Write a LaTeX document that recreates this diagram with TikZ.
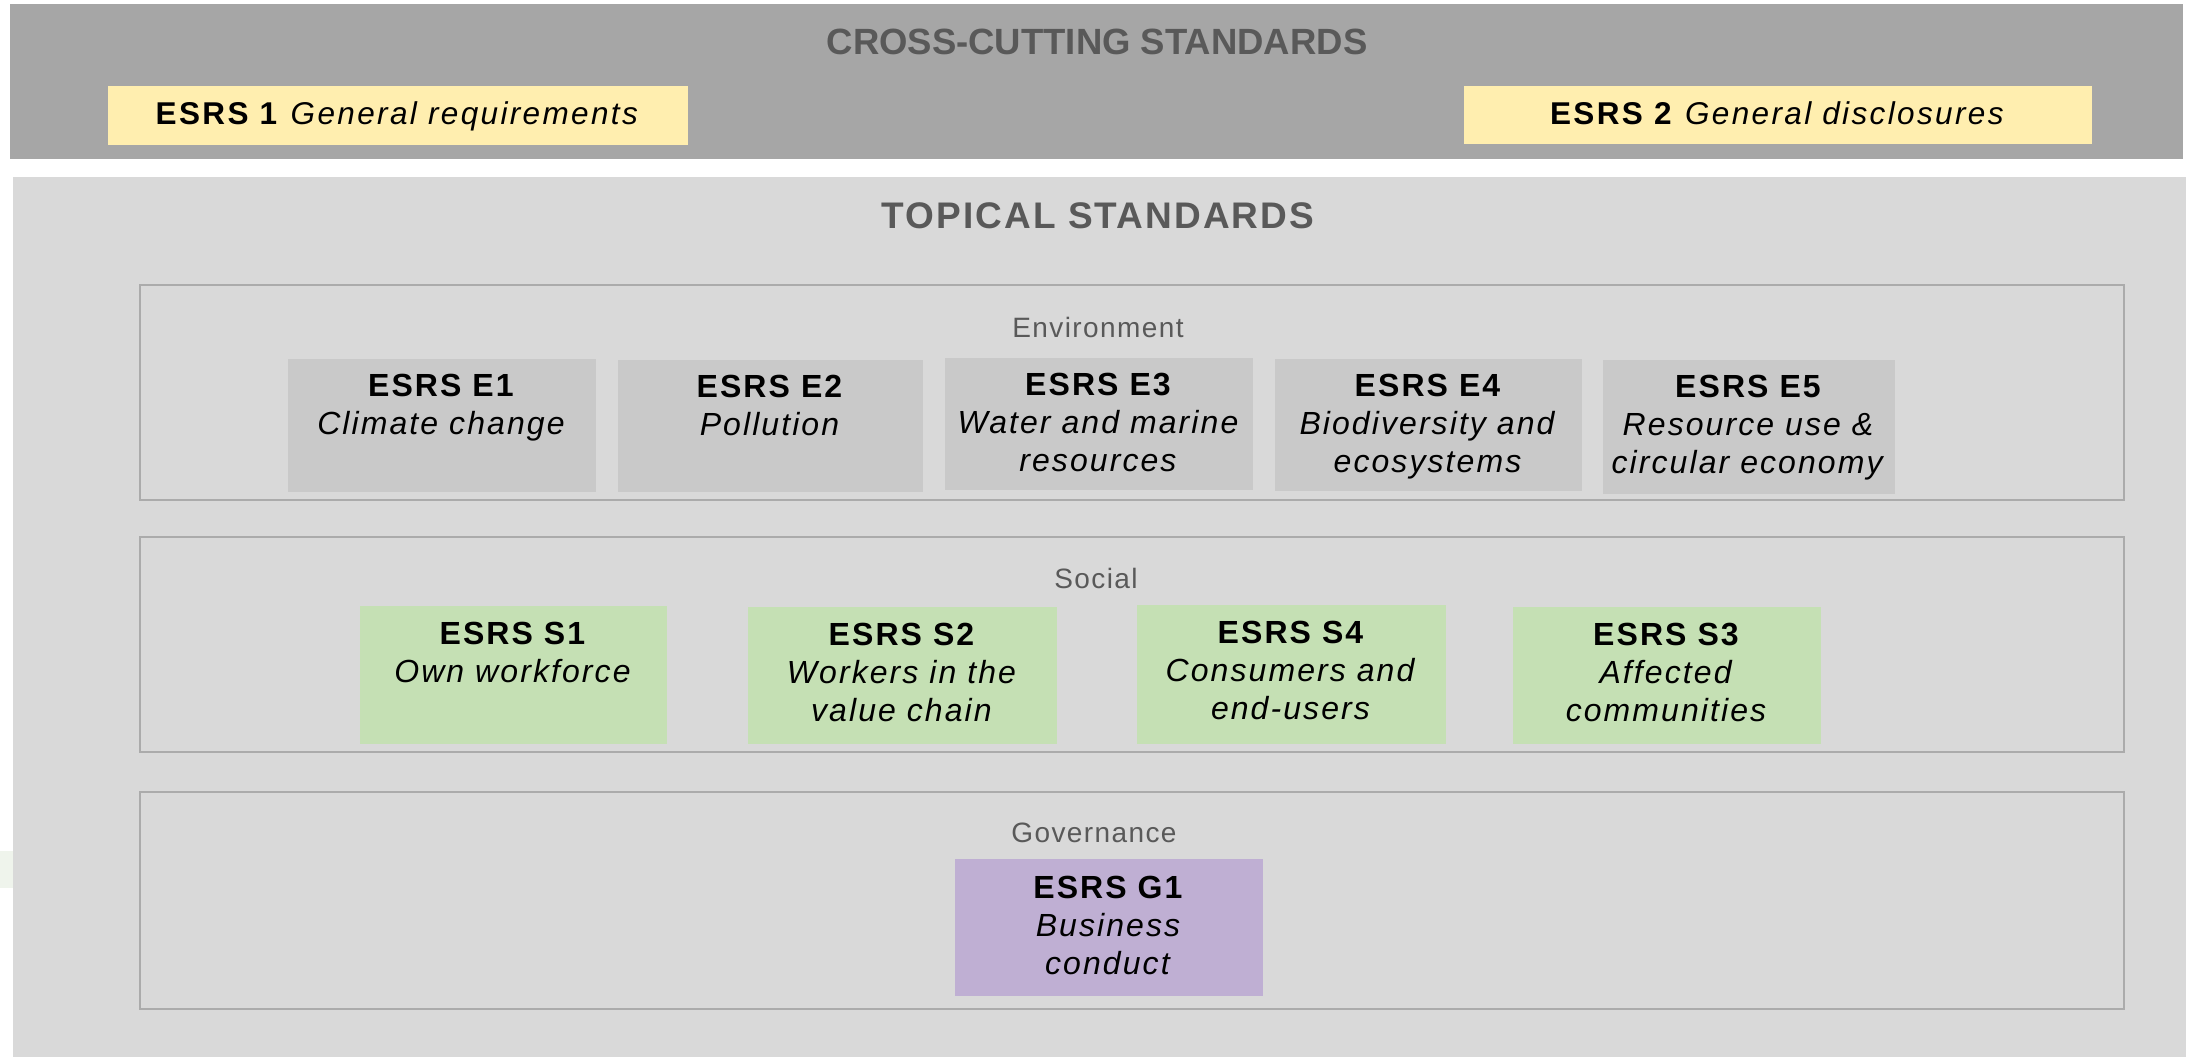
\documentclass[tikz,border=0pt]{standalone}
\usepackage{fontspec}
\setmainfont{Liberation Sans}
\newfontfamily\lsfont{Liberation Sans}[LetterSpace=5]
\newfontfamily\boxfont{Liberation Sans}[LetterSpace=6.5]
\newfontfamily\genfont{Liberation Sans}[LetterSpace=7.5]
\newfontfamily\crossfont{Liberation Sans}[LetterSpace=0]
\newfontfamily\topfont{Liberation Sans}[LetterSpace=5.5]
\definecolor{darkband}{HTML}{A6A6A6}
\definecolor{lightband}{HTML}{D9D9D9}
\definecolor{yellowbox}{HTML}{FFEEAF}
\definecolor{greybox}{HTML}{C9C9C9}
\definecolor{greenbox}{HTML}{C5E0B4}
\definecolor{purplebox}{HTML}{BFAFD3}
\definecolor{titlegrey}{HTML}{595959}
\definecolor{framegrey}{HTML}{ABABAB}
\definecolor{palegreen}{HTML}{EFF4EC}
\begin{document}
\begin{tikzpicture}[x=1pt,y=-1pt,
  band/.style={inner sep=0pt, outer sep=0pt, anchor=north west},
  stdbox/.style={inner sep=0pt, outer sep=0pt, anchor=north west, minimum width=308pt, minimum height=133pt},
  frame/.style={draw=framegrey, line width=2pt, inner sep=0pt, outer sep=0pt, anchor=north west, minimum width=1984pt},
  title/.style={anchor=base, text=titlegrey, inner sep=0pt},
  section/.style={anchor=base, text=titlegrey, inner sep=0pt, font=\lsfont\fontsize{28}{34}\selectfont},
  boxtext/.style={anchor=north, align=center, inner sep=0pt, text=black, font=\boxfont\fontsize{32}{38}\selectfont},
  gentext/.style={anchor=base, inner sep=0pt, text=black, font=\genfont\fontsize{31.5}{38}\selectfont}
]
\useasboundingbox (0,0) rectangle (2195,1057);
\fill[white] (0,0) rectangle (2195,1057);
% pale green patch at the left edge
\fill[palegreen] (0,851) rectangle (14,888);
% bands
\node[band, fill=darkband, minimum width=2173pt, minimum height=155pt] (cross) at (10,4) {};
\node[band, fill=lightband, minimum width=2173pt, minimum height=880pt] (topical) at (13,177) {};
% titles
\node[title, font=\crossfont\bfseries\fontsize{36.5}{44}\selectfont] (crosst) at (1097,55) {CROSS-CUTTING STANDARDS};
\node[title, font=\topfont\bfseries\fontsize{37}{44}\selectfont] (topt) at (1098,228) {TOPICAL STANDARDS};
% cross-cutting boxes
\node[band, fill=yellowbox, minimum width=580pt, minimum height=59pt] (esrs1) at (108,86) {};
\node[gentext] (esrs1t) at (398,124) {\textbf{ESRS 1} \textit{General requirements}};
\node[band, fill=yellowbox, minimum width=628pt, minimum height=58pt] (esrs2) at (1464,86) {};
\node[gentext] (esrs2t) at (1778,124) {\textbf{ESRS 2} \textit{General disclosures}};
% frames
\node[frame, minimum height=215pt] (envf) at (140,285) {};
\node[frame, minimum height=215pt] (socf) at (140,537) {};
\node[frame, minimum height=217pt] (govf) at (140,792) {};
\node[section] (envl) at (1098,337) {Environment};
\node[section] (socl) at (1096,588) {Social};
\node[section] (govl) at (1094,842) {Governance};
% environment
\node[stdbox, fill=greybox] (e1) at (288,359) {};
\node[stdbox, fill=greybox, minimum width=305pt, minimum height=132pt] (e2) at (618,360) {};
\node[stdbox, fill=greybox, minimum height=132pt] (e3) at (945,358) {};
\node[stdbox, fill=greybox, minimum width=307pt, minimum height=132pt] (e4) at (1275,359) {};
\node[stdbox, fill=greybox, minimum width=292pt, minimum height=134pt] (e5) at (1603,360) {};
\node[boxtext] (e1t) at ([yshift=-15pt]e1.north) {\textbf{ESRS E1}\\\textit{Climate change}};
\node[boxtext] (e2t) at ([yshift=-15pt]e2.north) {\textbf{ESRS E2}\\\textit{Pollution}};
\node[boxtext] (e3t) at ([yshift=-15pt]e3.north) {\textbf{ESRS E3}\\\textit{Water and marine}\\\textit{resources}};
\node[boxtext] (e4t) at ([yshift=-15pt]e4.north) {\textbf{ESRS E4}\\\textit{Biodiversity and}\\\textit{ecosystems}};
\node[boxtext] (e5t) at ([yshift=-15pt]e5.north) {\textbf{ESRS E5}\\\textit{Resource use \&}\\\textit{circular economy}};
% social
\node[stdbox, fill=greenbox, minimum width=307pt, minimum height=138pt] (s1) at (360,606) {};
\node[stdbox, fill=greenbox, minimum width=309pt, minimum height=137pt] (s2) at (748,607) {};
\node[stdbox, fill=greenbox, minimum width=309pt, minimum height=139pt] (s4) at (1137,605) {};
\node[stdbox, fill=greenbox, minimum width=308pt, minimum height=137pt] (s3) at (1513,607) {};
\node[boxtext] (s1t) at ([yshift=-16pt]s1.north) {\textbf{ESRS S1}\\\textit{Own workforce}};
\node[boxtext] (s2t) at ([yshift=-16pt]s2.north) {\textbf{ESRS S2}\\\textit{Workers in the}\\\textit{value chain}};
\node[boxtext] (s4t) at ([yshift=-16pt]s4.north) {\textbf{ESRS S4}\\\textit{Consumers and}\\\textit{end-users}};
\node[boxtext] (s3t) at ([yshift=-16pt]s3.north) {\textbf{ESRS S3}\\\textit{Affected}\\\textit{communities}};
% governance
\node[stdbox, fill=purplebox, minimum width=308pt, minimum height=137pt] (g1) at (955,859) {};
\node[boxtext] (g1t) at ([yshift=-17pt]g1.north) {\textbf{ESRS G1}\\\textit{Business}\\\textit{conduct}};
\end{tikzpicture}
\end{document}
